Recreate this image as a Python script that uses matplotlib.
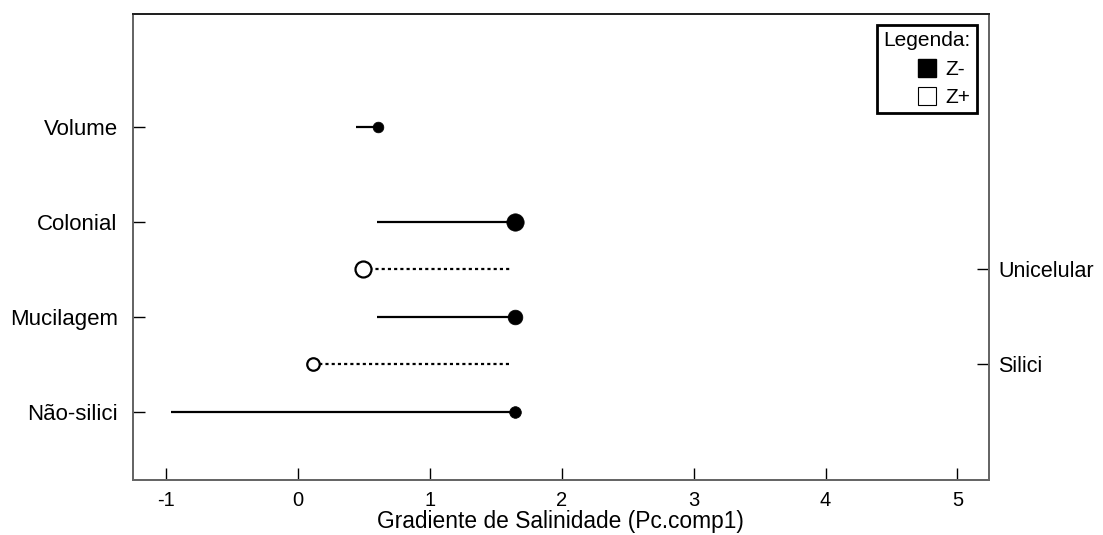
import matplotlib
matplotlib.use("Agg")
import matplotlib.pyplot as plt
from matplotlib.lines import Line2D

plt.rcParams['font.family'] = ['Liberation Sans', 'DejaVu Sans']

# rows, bottom to top position in the plot
labels = ['Volume', 'Colonial', 'Unicelular', 'Mucilagem', 'Silici', 'Não-silici']
ypos = [7, 5, 4, 3, 2, 1]
side = ['left', 'left', 'right', 'left', 'right', 'left']
# point (circle) and the other end of each segment
point_x = [0.609, 1.645, 0.493, 1.645, 0.111, 1.645]
end_x = [0.44, 0.60, 1.615, 0.60, 1.615, -0.963]
group = ['z-', 'z-', 'z+', 'z-', 'z+', 'z-']
marker_ms = [7.7, 12.5, 11.5, 10.6, 9.0, 8.4]

xticks = [-1, 0, 1, 2, 3, 4, 5]

fig = plt.figure(figsize=(11.03, 5.35), dpi=100)
ax = fig.add_axes([0.1206, 0.1028, 0.7758, 0.871])

for lab, y, px, ex, g, ms in zip(labels, ypos, point_x, end_x, group, marker_ms):
    if g == 'z-':
        ax.plot([ex, px], [y, y], color='black', lw=1.6, solid_capstyle='butt', zorder=2)
        ax.plot(px, y, 'o', color='black', ms=ms, mec='black', mew=0.5, zorder=3)
    else:
        ax.plot([px, ex], [y, y], color='black', lw=1.6, linestyle=(0, (1.4, 1.4)), zorder=2)
        ax.plot(px, y, 'o', mfc='white', mec='black', ms=ms, mew=1.6, zorder=3)

ax.set_xlim(-1.251, 5.237)
ax.set_ylim(-0.432, 9.379)
ax.set_xticks(xticks)
ax.set_xticklabels([str(t) for t in xticks])

left_y = [y for y, s in zip(ypos, side) if s == 'left']
left_l = [l for l, s in zip(labels, side) if s == 'left']
right_y = [y for y, s in zip(ypos, side) if s == 'right']
right_l = [l for l, s in zip(labels, side) if s == 'right']

ax.set_yticks(left_y)
ax.set_yticklabels(left_l, fontsize=16)
ax.tick_params(axis='y', direction='in', length=8.5, width=1, pad=11, colors='black', labelcolor='black')
ax.tick_params(axis='x', direction='in', length=8.5, width=1, pad=8, labelsize=14.5)

ax2 = ax.twinx()
ax2.set_ylim(ax.get_ylim())
ax2.set_yticks(right_y)
ax2.set_yticklabels(right_l, fontsize=15.5)
ax2.tick_params(axis='y', direction='in', length=8.5, width=1, pad=7)

for a in (ax, ax2):
    for s in a.spines.values():
        s.set_color('#666666')
        s.set_linewidth(1.4)
    a.spines['top'].set_color('#222222')

ax.set_xlabel('Gradiente de Salinidade (Pc.comp1)', fontsize=16.4, labelpad=0)

handles = [
    Line2D([], [], marker='s', linestyle='none', mfc='black', mec='black', ms=12.5),
    Line2D([], [], marker='s', linestyle='none', mfc='white', mec='black', mew=0.8, ms=12.5),
]
leg = ax2.legend(handles, ['Z-', 'Z+'], title='Legenda:', loc='upper right',
                 bbox_to_anchor=(0.9859, 0.976), fontsize=15, title_fontsize=15,
                 fancybox=False, framealpha=1, edgecolor='black', alignment='right',
                 handlelength=1.0, handletextpad=0.4, borderpad=0.3, labelspacing=0.45,
                 borderaxespad=0)
leg.get_frame().set_linewidth(2)

fig.savefig('out.png', dpi=100)
